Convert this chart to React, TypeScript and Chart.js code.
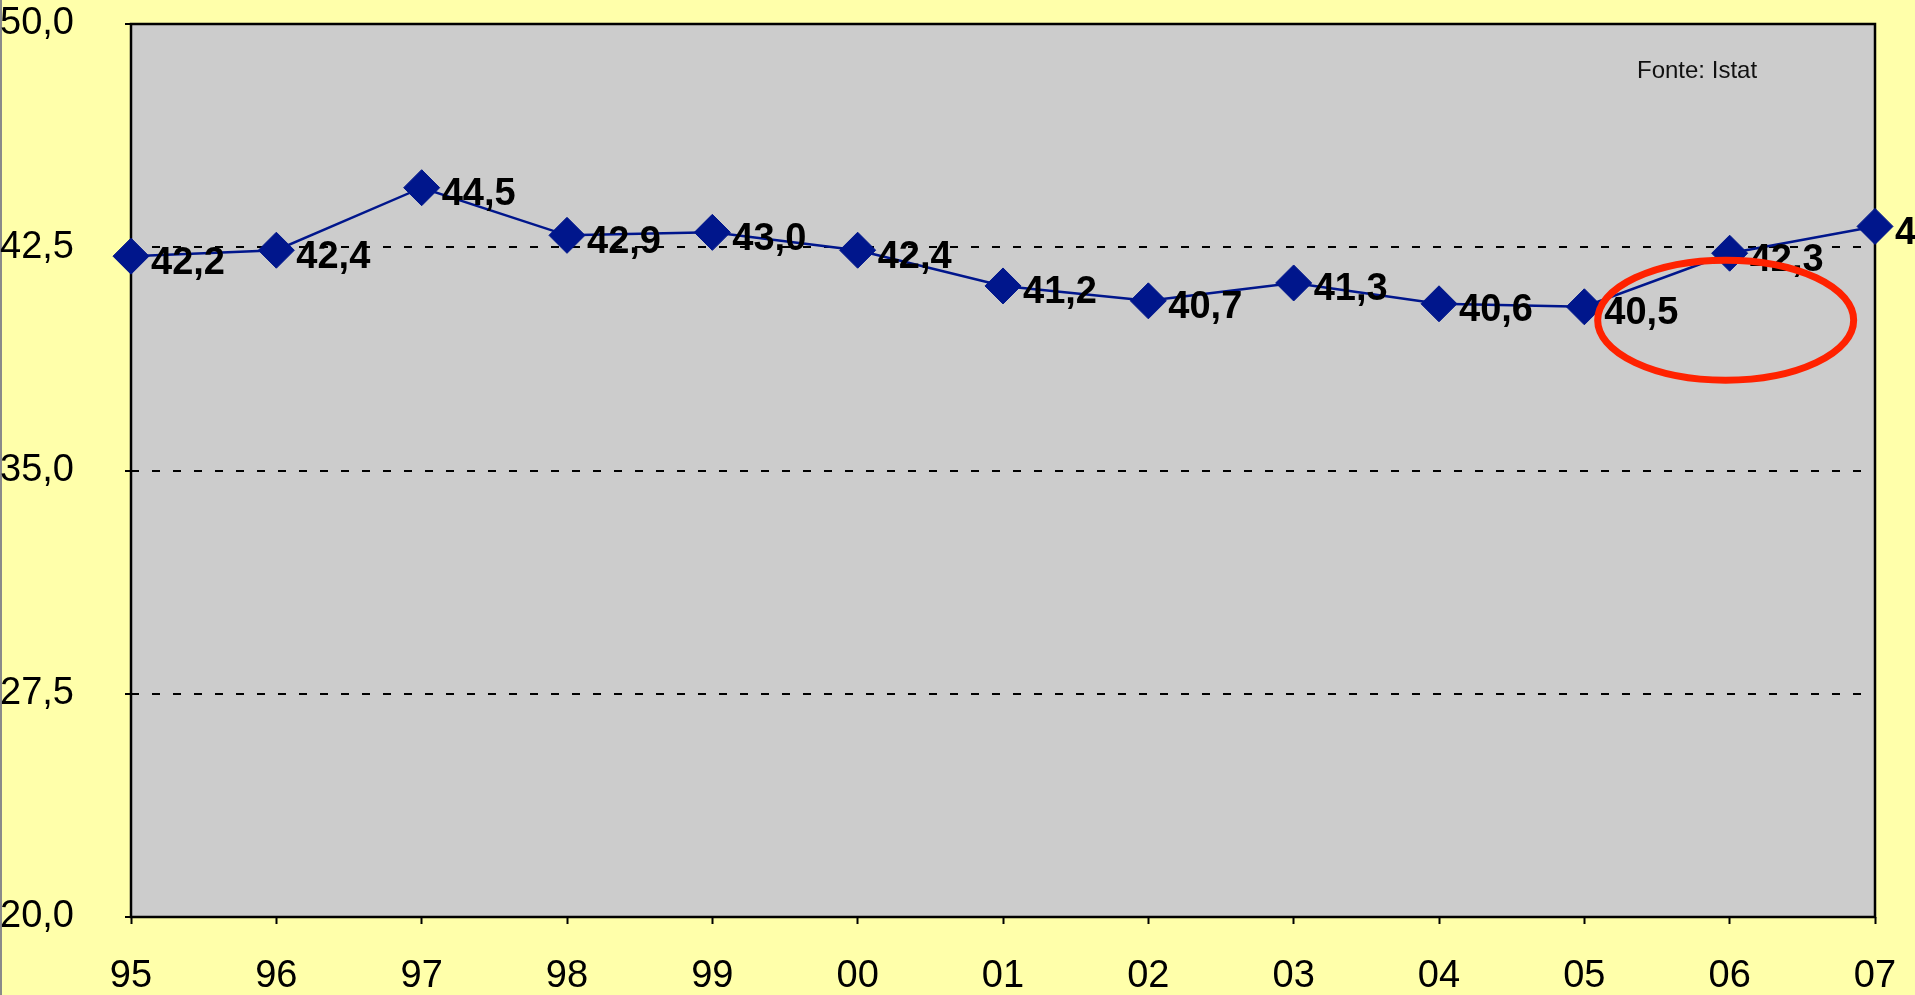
import React, { useEffect, useRef } from "react";
import { Chart, registerables } from "chart.js";

Chart.register(...registerables);

const years = ["95", "96", "97", "98", "99", "00", "01", "02", "03", "04", "05", "06", "07"];
const values = [42.2, 42.4, 44.5, 42.9, 43.0, 42.4, 41.2, 40.7, 41.3, 40.6, 40.5, 42.3, 43.2];
const yTicks = [20, 27.5, 35, 42.5, 50];
const sourceNote = "Fonte: Istat";
// highlight ellipse anchored to data coordinates (category index, value)
const highlightAt = { index: 11, value: 40.05 };

const PAGE_BG = "#FFFFAA";
const PLOT_BG = "#CCCCCC";
const NAVY = "#00168C";
const FONT = "'Liberation Sans', Arial, sans-serif";

const fmt = (v: number) => v.toFixed(1).replace(".", ",");

const decorPlugin = {
  id: "decor",
  beforeDraw(chart: any) {
    const { ctx, chartArea: a, width, height } = chart;
    ctx.save();
    ctx.fillStyle = PAGE_BG;
    ctx.fillRect(0, 0, width, height);
    ctx.fillStyle = PLOT_BG;
    ctx.fillRect(a.left, a.top, a.right - a.left, a.bottom - a.top);
    ctx.fillStyle = "#8a8a8a";
    ctx.fillRect(0, 0, 2, height);
    ctx.restore();
  },
  beforeDatasetsDraw(chart: any) {
    const { ctx, chartArea: a } = chart;
    ctx.save();
    ctx.strokeStyle = "#000";
    ctx.lineWidth = 2.5;
    ctx.strokeRect(a.left, a.top, a.right - a.left, a.bottom - a.top);
    ctx.restore();
  },
  afterDatasetsDraw(chart: any) {
    const { ctx, chartArea: a } = chart;
    const meta = chart.getDatasetMeta(0);
    ctx.save();
    ctx.fillStyle = "#000";
    ctx.font = `bold 38px ${FONT}`;
    ctx.textAlign = "left";
    ctx.textBaseline = "middle";
    meta.data.forEach((pt: any, i: number) => {
      ctx.fillText(fmt(values[i]), pt.x + 20, pt.y + 7);
    });
    ctx.font = `24px ${FONT}`;
    ctx.fillStyle = "#111";
    ctx.fillText(sourceNote, a.right - 238, a.top + 47);
    ctx.restore();
  },
  afterDraw(chart: any) {
    const { ctx } = chart;
    const xs = chart.scales.x;
    const ys = chart.scales.y;
    const cx = xs.getPixelForValue(highlightAt.index) - 4;
    const cy = ys.getPixelForValue(highlightAt.value);
    ctx.save();
    ctx.strokeStyle = "#FF2200";
    ctx.lineWidth = 7;
    ctx.beginPath();
    ctx.ellipse(cx, cy, 128, 60, 0, 0, Math.PI * 2);
    ctx.stroke();
    ctx.restore();
  },
};

export default function App() {
  const ref = useRef<HTMLCanvasElement | null>(null);
  useEffect(() => {
    if (!ref.current) return;
    const chart = new Chart(ref.current, {
      type: "line",
      data: {
        labels: years,
        datasets: [
          {
            data: values,
            borderColor: NAVY,
            borderWidth: 2.5,
            backgroundColor: NAVY,
            pointStyle: "rectRot",
            pointRadius: 18,
            pointBorderWidth: 1,
            pointBorderColor: NAVY,
            pointBackgroundColor: NAVY,
            tension: 0,
            clip: false as any,
          },
        ],
      },
      options: {
        responsive: false,
        animation: false,
        events: [],
        layout: { padding: { left: 0, top: 24, right: 40, bottom: 0 } },
        plugins: { legend: { display: false }, tooltip: { enabled: false } },
        scales: {
          x: {
            type: "category",
            offset: false,
            afterFit: (s: any) => {
              s.height = 78;
              s.paddingLeft = 0;
              s.paddingRight = 0;
            },
            border: { display: false },
            grid: {
              drawOnChartArea: false,
              drawTicks: true,
              tickLength: 7,
              tickWidth: 2,
              tickColor: "#000",
            },
            ticks: {
              color: "#000",
              font: { family: FONT, size: 38 },
              padding: 30,
              maxRotation: 0,
              autoSkip: false,
            },
          },
          y: {
            min: 20,
            max: 50,
            afterFit: (s: any) => {
              s.width = 131;
              s.paddingTop = 0;
              s.paddingBottom = 0;
            },
            afterBuildTicks: (s: any) => {
              s.ticks = yTicks.map((v) => ({ value: v }));
            },
            border: { display: false, dash: [8, 13] },
            grid: {
              color: "#000",
              lineWidth: 2,
              drawTicks: true,
              tickLength: 6,
              tickWidth: 2,
              tickColor: "#000",
              tickBorderDash: [],
            },
            ticks: {
              color: "#000",
              font: { family: FONT, size: 38 },
              crossAlign: "far",
              callback: (v: any) => fmt(Number(v)),
            },
          },
        },
      },
      plugins: [decorPlugin],
    });
    return () => chart.destroy();
  }, []);
  return (
    <div style={{ position: "fixed", left: 0, top: 0, width: 1915, height: 995 }}>
      <canvas ref={ref} width={1915} height={995} style={{ display: "block" }} />
    </div>
  );
}
